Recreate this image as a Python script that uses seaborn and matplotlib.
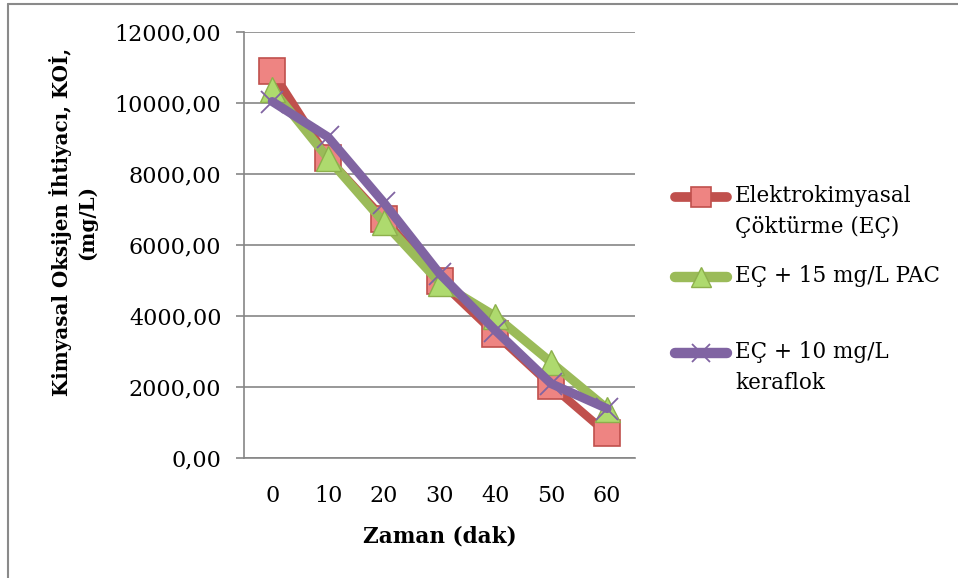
import matplotlib
matplotlib.use("Agg")
import matplotlib.pyplot as plt
from matplotlib.lines import Line2D
import seaborn as sns
import pandas as pd

# ---- data ----
time_min = [0, 10, 20, 30, 40, 50, 60]
ec_vals = [10900, 8450, 6750, 5000, 3500, 2050, 700]
pac_vals = [10400, 8450, 6650, 4950, 4000, 2700, 1400]
kera_vals = [10050, 9050, 7200, 5200, 3600, 2100, 1400]
series_names = ["Elektrokimyasal\nÇöktürme (EÇ)", "EÇ + 15 mg/L PAC", "EÇ + 10 mg/L\nkeraflok"]
y_ticks = [0, 2000, 4000, 6000, 8000, 10000, 12000]
y_tick_labels = ["0,00", "2000,00", "4000,00", "6000,00", "8000,00", "10000,00", "12000,00"]
x_label = "Zaman (dak)"
y_label = "Kimyasal Oksijen İhtiyacı, KOİ,\n(mg/L)"

sns.set_style("white")
plt.rcParams["font.family"] = ["DejaVu Serif"]
plt.rcParams["text.color"] = "black"

W, H = 958, 578
fig = plt.figure(figsize=(W / 100, H / 100), dpi=100)
fig.patch.set_facecolor("white")

x0, x1, ytop, ybot = 244.3, 635, 32.3, 458.3
ax = fig.add_axes([x0 / W, (H - ybot) / H, (x1 - x0) / W, (ybot - ytop) / H])

styles = [
    dict(color="#C0504D", lw=6.0, marker="s", ms=18.5, mfc="#EE8482", mec="#C0504D", mew=1.2),
    dict(color="#9BBB59", lw=6.5, marker="^", ms=18, mfc="#AEDA6E", mec="#8DB04C", mew=1.0),
    dict(color="#8064A2", lw=6.5, marker="x", ms=16, mfc="#8064A2", mec="#8064A2", mew=1.3),
]
all_vals = [ec_vals, pac_vals, kera_vals]

for vals, name, st in zip(all_vals, series_names, styles):
    df = pd.DataFrame({"t": time_min, "v": vals})
    sns.lineplot(data=df, x="t", y="v", ax=ax, color=st["color"], linewidth=st["lw"],
                 marker=st["marker"], markersize=st["ms"], markerfacecolor=st["mfc"],
                 markeredgecolor=st["mec"], markeredgewidth=st["mew"],
                 solid_joinstyle="round", solid_capstyle="round", legend=False)

ax.set_xlim(-5, 65)
ax.set_ylim(0, 12000)
ax.set_yticks(y_ticks)
ax.set_yticklabels(y_tick_labels)
ax.set_xticks(time_min)
ax.set_xticklabels([str(t) for t in time_min])
ax.set_xlabel("")
ax.set_ylabel("")
grid_c = "#868686"
ax.grid(axis="y", color=grid_c, linewidth=1.2)
ax.grid(axis="x", visible=False)
ax.set_axisbelow(True)
for s in ["top", "right"]:
    ax.spines[s].set_visible(False)
for s in ["left", "bottom"]:
    ax.spines[s].set_color(grid_c)
    ax.spines[s].set_linewidth(1.2)
ax.tick_params(axis="y", which="both", left=True, length=5.5, width=1.2, color=grid_c,
               labelsize=16, pad=11, labelcolor="black")
ax.tick_params(axis="x", which="both", bottom=False, length=0, labelsize=16, pad=19,
               labelcolor="black")

fig.text(440 / W, 1 - 537 / H, x_label, ha="center", va="center", fontsize=15.5,
         fontweight="bold", color="black")
fig.text(73 / W, 1 - 222 / H, y_label, ha="center", va="center", rotation=90,
         fontsize=14.3, fontweight="bold", multialignment="center", linespacing=1.3,
         color="black")

# legend (manual)
leg_y = [197, 277, 353]
for st, name, ly in zip(styles, series_names, leg_y):
    yy = 1 - ly / H
    fig.add_artist(Line2D([675 / W, 727 / W], [yy, yy], transform=fig.transFigure,
                          color=st["color"], lw=st["lw"] + 1, solid_capstyle="round"))
    fig.add_artist(Line2D([701 / W], [yy], transform=fig.transFigure, marker=st["marker"],
                          ms=st["ms"] * 0.8, mfc=st["mfc"], mec=st["mec"], mew=st["mew"],
                          linestyle="none"))
    fig.text(735 / W, 1 - (ly - 12) / H, name, ha="left", va="top", fontsize=15.5,
             linespacing=1.55, transform=fig.transFigure, color="black")

# outer border (top and left only visible)
fig.add_artist(Line2D([7.5 / W, 1], [1 - 3.5 / H, 1 - 3.5 / H], transform=fig.transFigure,
                      color="#8A8A8A", lw=1.5))
fig.add_artist(Line2D([7.5 / W, 7.5 / W], [0, 1 - 3.5 / H], transform=fig.transFigure,
                      color="#8A8A8A", lw=1.5))

fig.savefig("out.png", dpi=100)
